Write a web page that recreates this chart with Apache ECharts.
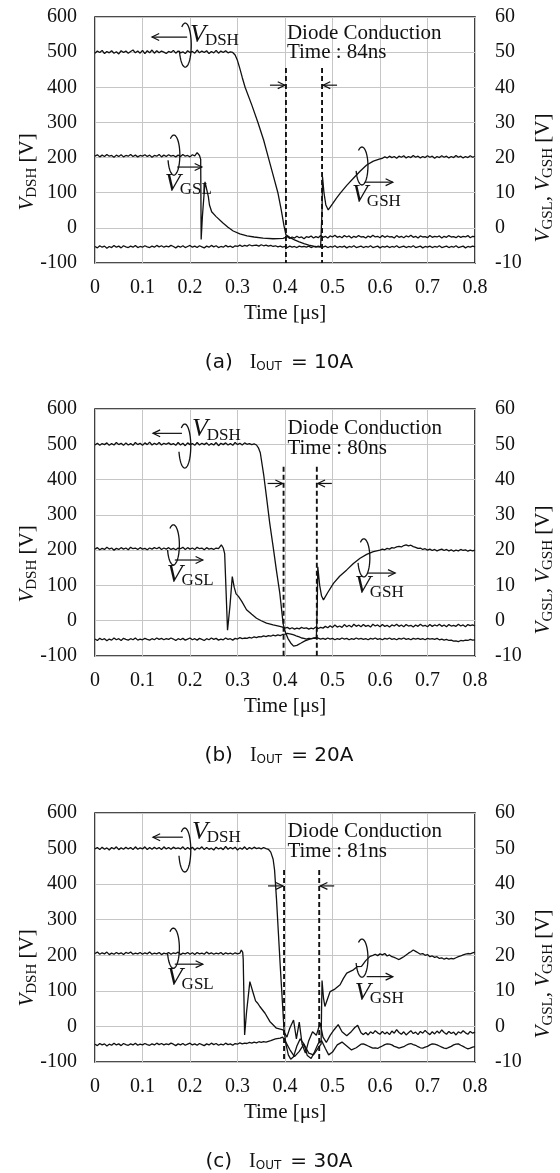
<!DOCTYPE html>
<html>
<head>
<meta charset="utf-8">
<script src="https://cdn.jsdelivr.net/npm/echarts@6/dist/echarts.min.js"></script>
<style>
html,body{margin:0;padding:0;background:#fff;}
#chart{width:560px;height:1173px;}
</style>
</head>
<body>
<div id="chart"></div>
<script>
// ---- tick labels ----
const timeTickLabels = ['0','0.1','0.2','0.3','0.4','0.5','0.6','0.7','0.8'];
const vdsTickLabels = ['-100','0','100','200','300','400','500','600'];
const vgsTickLabels = ['-10','0','10','20','30','40','50','60'];

// ---- panel texts ----
const panelTags = ['(a)','(b)','(c)'];
const outCurrents = ['10A','20A','30A'];
const conductionTimes = ['84ns','80ns','81ns'];
// diode conduction window edges [µs] and top of the dashed markers [V]
const diodeStart = [0.402, 0.397, 0.398];
const diodeEnd = [0.478, 0.467, 0.472];
const diodeMarkTop = [455, 436, 440];

// Waveforms. Steady parts are scope records at a fixed sample interval
// (first sample time given with each record); switching edges are [time µs, V] pairs.
const STEP = 0.005;

// ---- (a) IOUT = 10A ----
const vdshA_pre = [497,503,499,505,496,502,498,504,497,501, 495,504,499,503,497,502,506,498,503,497, 505,496,504,498,506,497,504,498,503,500, 496,502,499,505,497,503,498,501,496,504, 499,502,497,506,498,503,499,504,496,502, 498,505,497,503,499,504,498,501];
const vdshA_edge = [[0.29,499],[0.295,492],[0.3,476],[0.305,453],[0.31,428],[0.316,400],[0.33,350],[0.343,300],[0.355,250],[0.365,200],[0.375,150],[0.385,100],[0.392,52],[0.398,5],[0.402,-20],[0.41,-27],[0.42,-34],[0.43,-40],[0.44,-45],[0.45,-49],[0.46,-52],[0.47,-54]];
const vdshA_post = [-55,-52,-56,-53,-55,-51,-56,-53,-55,-52, -57,-53,-55,-51,-56,-54,-52,-56,-53,-55, -51,-56,-54,-52,-57,-53,-55,-52,-56,-53, -55,-51,-56,-54,-52,-56,-53,-55,-51,-56, -54,-52,-57,-53,-55,-52,-56,-53,-55,-51, -56,-54,-52,-56,-53,-55,-51,-56,-54,-52, -57,-53,-55,-52,-54];
const vgslA_pre = [20.4,20.8,20.2,20.7,20.3,20.9,20.4,20.6,20.1,20.7, 20.3,20.8,20.2,20.6,20.4,20.9,20.3,20.7,20.2,20.6, 20.4,20.8,20.3,20.7,20.1,20.6,20.4,20.9,20.2,20.7, 20.3,20.8,20.4,20.6,20.2,20.7,20.3,20.9,20.4,20.6, 20.2,20.8,20.5];
const vgslA_edge = [[0.215,21.4],[0.22,20.6],[0.2225,19.5],[0.2235,-3.3],[0.226,3],[0.2316,13.1],[0.2386,8.9],[0.241,6.5],[0.2435,6.3],[0.2456,4.6],[0.255,3.2],[0.27,1.3],[0.28,0.2],[0.291,-0.9],[0.305,-1.7],[0.32,-2.3],[0.335,-2.6],[0.354,-2.9],[0.375,-3.1],[0.396,-3.0]];
const vgslA_post = [-2.8,-2.5,-3.0,-2.6,-2.9,-2.4,-2.8,-2.6,-3.1,-2.5, -2.7,-2.3,-2.9,-2.5,-2.8,-2.2,-2.7,-2.4,-2.9,-2.3, -2.6,-2.1,-2.7,-2.4,-2.8,-2.2,-2.6,-2.3,-2.9,-2.4, -2.7,-2.2,-2.6,-2.5,-2.9,-2.3,-2.7,-2.1,-2.6,-2.4, -2.8,-2.2,-2.7,-2.3,-2.6,-2.5,-2.9,-2.2,-2.7,-2.4, -2.8,-2.3,-2.6,-2.1,-2.7,-2.4,-2.9,-2.3,-2.6,-2.5, -2.8,-2.2,-2.7,-2.4,-2.6,-2.3,-2.9,-2.4,-2.7,-2.2, -2.6,-2.5,-2.8,-2.3,-2.7,-2.4,-2.6,-2.2,-2.8,-2.4, -2.5];
const vgshA_pre = [-5.3,-5.7,-5.1,-5.5,-5.2,-5.8,-5.3,-5.6,-5.0,-5.5, -5.2,-5.7,-5.1,-5.4,-5.6,-5.2,-5.5,-5.0,-5.6,-5.3, -5.5,-5.1,-5.4,-5.6,-5.2,-5.5,-5.0,-5.4,-5.1,-5.5, -5.2,-5.4,-5.0,-5.3,-5.7,-5.2,-5.5,-5.1,-5.6,-5.3, -5.0,-5.5,-5.2,-5.6,-5.1,-5.4,-5.7,-5.2,-5.5,-5.0, -5.4,-5.1,-5.6,-5.3,-5.5,-5.0,-5.4,-5.2,-5.6,-5.1, -5.3,-4.9,-5.3,-5.0,-5.2,-4.8,-5.1,-5.0,-4.9,-5.2, -4.8,-5.1,-4.9,-5.2,-5.0,-5.3,-5.1,-5.4,-5.2,-5.5, -5.3,-5.6,-5.2,-5.5,-5.3,-5.6,-5.2,-5.4,-5.3,-5.5, -5.2,-5.6,-5.3,-5.5,-5.2,-5.4];
const vgshA_edge = [[0.478,5],[0.479,14.5],[0.482,10],[0.486,6.5],[0.491,5.1],[0.5,6.8],[0.508,8.4],[0.516,9.8],[0.53,12.1],[0.544,14.1],[0.558,16.1],[0.572,17.9],[0.586,19.0],[0.6,19.6]];
const vgshA_post = [19.8,20.2,19.9,20.4,20.0,20.3,19.8,20.4,20.1,20.5, 19.9,20.3,20.0,20.6,20.1,20.4,19.9,20.3,20.0,20.5, 20.1,20.4,19.8,20.3,20.0,20.5,20.1,20.4,19.9,20.3, 20.0,20.6,20.1,20.4,19.9,20.3,20.0,20.5,20.1,20.3];

// ---- (b) IOUT = 20A ----
const vdshB_pre = [498,503,497,502,499,504,497,502,498,505, 499,503,497,504,498,502,497,505,499,503, 497,504,499,506,498,503,499,505,498,503, 500,504,499,502,497,505,498,503,496,504, 499,502,497,505,498,503,499,504,497,502, 498,505,496,503,499,504,498,502,497,505, 499,503,498,504,500,502,499,501];
const vdshB_edge = [[0.34,498],[0.344,490],[0.348,476],[0.355,415],[0.361,351],[0.368,275],[0.375,210],[0.382,142],[0.389,79],[0.396,-8],[0.4,-30],[0.406,-50],[0.412,-63],[0.418,-72],[0.425,-70],[0.433,-64],[0.442,-57],[0.452,-52],[0.46,-49],[0.467,-48],[0.475,-52]];
const vdshB_post = [-50,-53,-49,-52,-50,-54,-51,-53,-49,-52, -50,-54,-51,-53,-49,-52,-50,-53,-51,-54, -50,-52,-49,-53,-51,-54,-50,-52,-49,-53, -51,-54,-50,-52,-49,-53,-51,-54,-50,-52, -50,-53,-51,-54,-50,-52,-51,-53,-50,-54, -52,-55,-53,-56,-55,-58,-57,-59,-56,-57, -55,-56,-53,-55,-54];
const vgslB_pre = [20.3,20.7,20.1,20.5,20.2,20.8,20.3,20.6,20.0,20.5, 20.2,20.7,20.3,20.6,20.1,20.8,20.4,20.6,20.2,20.7, 20.3,20.5,20.1,20.6,20.3,20.7,20.4,20.8,20.2,20.6, 20.3,20.7,20.2,20.5,20.1,20.6,20.4,20.8,20.2,20.7, 20.3,20.6,20.2,20.8,20.4,20.6,20.1,20.7,20.3,20.5, 20.2,20.6,20.4];
const vgslB_edge = [[0.266,21.5],[0.27,20.6],[0.273,19],[0.279,-2.7],[0.284,4],[0.289,12.5],[0.293,9.5],[0.297,7.6],[0.302,6.9],[0.305,6.7],[0.309,5.5],[0.319,3.1],[0.33,1.8],[0.34,0.7],[0.35,0],[0.361,-0.7],[0.375,-1.2],[0.389,-1.6]];
const vgslB_post = [-1.8,-2.1,-1.9,-2.3,-2.0,-2.4,-2.1,-2.3,-1.9,-2.2, -2.0,-2.4,-2.1,-2.3,-1.8,-2.2,-1.9,-2.1,-1.6,-2.0, -1.4,-1.9,-1.2,-1.8,-1.5,-1.9,-1.1,-1.7,-1.3,-1.8, -1.0,-1.6,-1.2,-1.7,-1.1,-1.6,-1.3,-1.8,-1.0,-1.5, -1.2,-1.7,-1.1,-1.6,-1.3,-1.8,-1.2,-1.5,-1.0,-1.6, -1.2,-1.7,-1.1,-1.5,-1.3,-1.8,-1.2,-1.6,-1.0,-1.5, -1.3,-1.7,-1.1,-1.6,-1.2,-1.5,-1.0,-1.6,-1.2,-1.7, -1.1,-1.5,-1.3,-1.6,-1.0,-1.5,-1.2,-1.7,-1.1,-1.4, -1.2,-1.5];
const vgshB_pre = [-5.2,-5.6,-5.0,-5.4,-5.1,-5.7,-5.2,-5.5,-4.9,-5.4, -5.1,-5.6,-5.0,-5.3,-5.5,-5.1,-5.4,-4.9,-5.5,-5.2, -5.4,-5.0,-5.3,-5.5,-5.1,-5.4,-4.9,-5.3,-5.0,-5.4, -5.1,-5.3,-4.9,-5.2,-5.6,-5.1,-5.4,-5.0,-5.5,-5.2, -4.9,-5.4,-5.1,-5.5,-5.0,-5.3,-5.6,-5.1,-5.4,-4.9, -5.3,-5.0,-5.5,-5.2,-5.4,-4.9,-5.3,-5.1,-5.5,-5.0, -5.2,-4.8,-5.1,-4.9,-5.0,-4.7,-4.9,-4.6,-4.8,-4.5, -4.6,-4.3,-4.5,-4.2,-4.4,-4.1,-4.3,-4.0,-4.2,-3.9, -3.8,-3.6,-3.7,-3.9,-4.1,-4.4,-4.6,-4.9,-5.0,-5.2, -5.0,-5.1,-5.0];
const vgshB_edge = [[0.466,-5.0],[0.468,5],[0.469,15.3],[0.473,10],[0.477,7],[0.481,5.9],[0.49,8.0],[0.502,10.6],[0.515,12.6],[0.53,14.4],[0.544,16.2],[0.558,17.7],[0.572,18.8],[0.586,19.6],[0.6,20.0]];
const vgshB_post = [20.3,20.1,20.5,20.3,20.7,20.6,20.9,21.1,20.9,21.3, 21.5,21.2,21.4,21.0,20.8,20.5,20.6,20.2,20.4,20.0, 20.3,19.9,20.2,19.8,20.1,20.3,19.9,20.2,19.8,20.1, 19.7,20.0,19.8,20.2,19.9,20.1,19.7,20.0,19.8,20.0];

// ---- (c) IOUT = 30A ----
const vdshC_pre = [499,503,497,504,498,502,496,503,499,505, 497,502,498,504,499,503,497,505,498,502, 499,505,497,503,498,504,499,503,497,505, 499,503,498,504,500,502,499,505,497,503, 498,504,496,502,499,505,497,503,498,501, 496,504,499,502,497,506,498,503,499,504, 496,502,498,505,497,503,499,504,500,502, 499,503,500];
const vdshC_edge = [[0.365,498],[0.37,490],[0.375,470],[0.378,440],[0.382,360],[0.386,265],[0.39,170],[0.394,80],[0.398,-10],[0.402,-50],[0.407,-80],[0.412,-92],[0.418,-85],[0.425,-55],[0.432,-35],[0.44,-50],[0.447,-82],[0.455,-90],[0.462,-72],[0.47,-48],[0.477,-40],[0.485,-62],[0.492,-80],[0.5,-72],[0.51,-52],[0.52,-44],[0.53,-55],[0.54,-66],[0.55,-60],[0.56,-50]];
const vdshC_post = [-49,-52,-55,-58,-61,-60,-62,-58,-55,-51, -49,-50,-52,-56,-58,-61,-59,-57,-53,-50, -48,-51,-53,-57,-60,-61,-58,-56,-52,-49, -50,-52,-55,-58,-61,-62,-59,-56,-52,-50, -49,-53,-56,-60,-63,-61,-58,-57];
const vgslC_pre = [20.5,20.9,20.3,20.7,20.4,20.9,20.2,20.6,20.3,20.8, 20.4,20.7,20.2,20.8,20.5,20.9,20.3,20.6,20.4,20.8, 20.3,20.7,20.4,20.9,20.3,20.6,20.4,20.8,20.2,20.6, 20.4,20.8,20.3,20.7,20.5,20.9,20.2,20.6,20.4,20.8, 20.3,20.7,20.2,20.8,20.4,20.6,20.3,20.9,20.4,20.7, 20.3,20.6,20.4,20.8,20.2,20.7,20.4,20.6,20.3,20.7, 20.4,20.6];
const vgslC_edge = [[0.308,21.5],[0.311,20.8],[0.312,19],[0.315,-2.4],[0.319,4],[0.326,12.6],[0.333,9.4],[0.338,7.2],[0.342,6.6],[0.347,5.6],[0.358,3.7],[0.368,1.4],[0.382,-0.5],[0.396,-1.0],[0.404,-3],[0.41,-0.5],[0.418,1.8],[0.424,-3.5],[0.43,1.2],[0.436,-5],[0.443,-7.5],[0.45,-4],[0.458,-1.5],[0.466,-2.5],[0.474,1.0],[0.48,-3],[0.487,-4.5],[0.495,-2.5],[0.503,-1],[0.512,0.5],[0.52,-1.5],[0.53,-2.6],[0.54,-1.4],[0.547,-0.3],[0.553,0.3],[0.56,-1.8]];
const vgslC_post = [-2.3,-1.7,-2.4,-1.5,-2.0,-1.2,-1.8,-2.2,-1.4,-2.1, -1.6,-2.3,-1.3,-1.9,-0.9,-1.7,-2.2,-1.5,-2.4,-1.8, -1.2,-2.0,-1.6,-2.3,-1.4,-1.9,-1.1,-1.8,-2.3,-1.5, -2.1,-1.3,-1.9,-1.0,-1.7,-2.2,-1.4,-2.0,-1.6,-2.4, -1.5,-1.9,-1.2,-1.8,-2.2,-1.4,-1.9,-1.6];
const vgshC_pre = [-5.0,-5.4,-4.8,-5.2,-4.9,-5.5,-5.0,-5.3,-4.7,-5.2, -4.9,-5.4,-4.8,-5.1,-5.3,-4.9,-5.2,-4.7,-5.3,-5.0, -5.2,-4.8,-5.1,-5.3,-4.9,-5.2,-4.7,-5.1,-4.8,-5.2, -4.9,-5.1,-4.7,-5.0,-5.4,-4.9,-5.2,-4.8,-5.3,-5.0, -4.7,-5.2,-4.9,-5.3,-4.8,-5.1,-5.4,-4.9,-5.2,-4.7, -5.1,-4.8,-5.3,-5.0,-5.2,-4.7,-5.1,-4.9,-5.3,-4.8, -5.0,-4.6,-4.9,-4.7,-4.8,-4.5,-4.7,-4.4,-4.6,-4.3, -4.5,-4.3];
const vgshC_edge = [[0.36,-4.4],[0.37,-4.0],[0.38,-3.5],[0.39,-3.3],[0.395,-3.0],[0.4,-4],[0.41,-6.5],[0.42,-8.5],[0.43,-7],[0.44,-5],[0.45,-7.5],[0.46,-8],[0.47,-6],[0.476,-5],[0.477,5],[0.478,12.9],[0.481,8],[0.484,5.6],[0.495,9.8],[0.505,10.5],[0.516,11.7],[0.523,13.5],[0.53,15],[0.544,15.9],[0.552,16.8],[0.561,16.9],[0.57,18.5],[0.579,19.7]];
const vgshC_post = [20.0,20.3,19.9,20.4,20.1,20.5,19.8,20.1,19.6,19.4, 19.1,18.8,19.2,19.6,20.1,20.6,21.0,21.5,21.1,20.7, 20.3,20.5,20.0,20.2,19.6,19.8,19.4,19.6,19.1,19.3, 18.9,19.2,18.9,19.1,19.0,19.3,19.6,19.8,20.1,20.3, 20.5,20.4,20.7,20.9];

// record start times of the post-edge records
const postStart = {
  dsh: [0.48, 0.48, 0.565],
  gsl: [0.40, 0.395, 0.565],
  gsh: [0.605, 0.605, 0.585]
};

function sampled(t0, values) {
  return values.map((v, k) => [Math.round((t0 + k * STEP) * 1e4) / 1e4, v]);
}
function record(pre, edge, post, t1) {
  return sampled(0, pre).concat(edge, sampled(t1, post));
}
const vdshSets = [
  record(vdshA_pre, vdshA_edge, vdshA_post, postStart.dsh[0]),
  record(vdshB_pre, vdshB_edge, vdshB_post, postStart.dsh[1]),
  record(vdshC_pre, vdshC_edge, vdshC_post, postStart.dsh[2])
];
const vgslSets = [
  record(vgslA_pre, vgslA_edge, vgslA_post, postStart.gsl[0]),
  record(vgslB_pre, vgslB_edge, vgslB_post, postStart.gsl[1]),
  record(vgslC_pre, vgslC_edge, vgslC_post, postStart.gsl[2])
];
const vgshSets = [
  record(vgshA_pre, vgshA_edge, vgshA_post, postStart.gsh[0]),
  record(vgshB_pre, vgshB_edge, vgshB_post, postStart.gsh[1]),
  record(vgshC_pre, vgshC_edge, vgshC_post, postStart.gsh[2])
];

// ---- layout ----
const panels = [
  {top: 17, height: 246},
  {top: 409, height: 247},
  {top: 813, height: 249}
];
const PLOT_LEFT = 95, PLOT_WIDTH = 380;
const INK = '#111';
const SERIF = '"Liberation Serif", "Times New Roman", serif';
const SANS = '"DejaVu Sans", Verdana, sans-serif';

// label anchors in (time, V_DSH-axis) units per panel
const labelAnchors = [
  {dshArrow:[0.12,0.194,543], dshCurl:[0.19,520], dshText:[0.2,549],
   gslCurl:[0.166,207], gslArrow:[0.173,0.225,173], gslText:[0.147,125],
   gshCurl:[0.562,176], gshArrow:[0.568,0.627,130], gshText:[0.541,93],
   diodeText:[0.404,554,498], diodeArrow:406},
  {dshArrow:[0.122,0.183,531], dshCurl:[0.189,495], dshText:[0.204,543],
   gslCurl:[0.165,215], gslArrow:[0.168,0.227,172], gslText:[0.151,130],
   gshCurl:[0.566,178], gshArrow:[0.573,0.632,135], gshText:[0.547,98],
   diodeText:[0.405,545,489], diodeArrow:389},
  {dshArrow:[0.122,0.185,532], dshCurl:[0.189,496], dshText:[0.204,547],
   gslCurl:[0.165,220], gslArrow:[0.168,0.227,175], gslText:[0.151,135],
   gshCurl:[0.562,192], gshArrow:[0.572,0.627,140], gshText:[0.547,94],
   diodeText:[0.405,547,491], diodeArrow:395}
];

const chart = echarts.init(document.getElementById('chart'), null, {renderer: 'canvas'});

const grids = [], xAxes = [], yAxes = [], series = [];
panels.forEach((p, i) => {
  grids.push({left: PLOT_LEFT, top: p.top, width: PLOT_WIDTH, height: p.height,
    show: true, borderColor: INK, borderWidth: 1.6, backgroundColor: 'transparent'});
  xAxes.push({
    type: 'value', gridIndex: i, min: 0, max: 0.8, interval: 0.1,
    axisLine: {show: false}, axisTick: {show: false},
    splitLine: {show: true, lineStyle: {color: '#c6c6c6', width: 1}},
    axisLabel: {margin: 15, fontFamily: SERIF, fontSize: 20, color: INK,
      formatter: v => timeTickLabels[Math.round(v * 10)]},
    name: 'Time [μs]', nameLocation: 'middle', nameGap: 40,
    nameTextStyle: {fontFamily: SERIF, fontSize: 21, color: INK}
  });
  yAxes.push({
    type: 'value', gridIndex: i, position: 'left', min: -100, max: 600, interval: 100,
    axisLine: {show: false}, axisTick: {show: false},
    splitLine: {show: true, lineStyle: {color: '#c6c6c6', width: 1}},
    axisLabel: {margin: 18, fontFamily: SERIF, fontSize: 20, color: INK,
      formatter: v => vdsTickLabels[Math.round(v / 100) + 1]}
  });
  yAxes.push({
    type: 'value', gridIndex: i, position: 'right', min: -10, max: 60, interval: 10,
    axisLine: {show: false}, axisTick: {show: false}, splitLine: {show: false},
    axisLabel: {margin: 20, fontFamily: SERIF, fontSize: 20, color: INK,
      formatter: v => vgsTickLabels[Math.round(v / 10) + 1]}
  });
  const trace = (data, yIdx) => ({
    type: 'line', xAxisIndex: i, yAxisIndex: yIdx, data: data,
    symbol: 'none', showSymbol: false, silent: true, animation: false,
    sampling: null, lineStyle: {color: INK, width: 1.3}, z: 3
  });
  series.push(trace(vdshSets[i], 2 * i));
  series.push(trace(vgslSets[i], 2 * i + 1));
  series.push(trace(vgshSets[i], 2 * i + 1));
  [diodeStart[i], diodeEnd[i]].forEach(t => {
    series.push({
      type: 'line', xAxisIndex: i, yAxisIndex: 2 * i,
      data: [[t, diodeMarkTop[i]], [t, -100]],
      symbol: 'none', showSymbol: false, silent: true, animation: false,
      lineStyle: {color: INK, width: 1.9, type: [5, 3]}, z: 4
    });
  });
});

chart.setOption({
  animation: false,
  backgroundColor: '#fff',
  grid: grids, xAxis: xAxes, yAxis: yAxes, series: series
});

// ---- annotations ----
const measureCtx = document.createElement('canvas').getContext('2d');
function textWidth(str, font) { measureCtx.font = font; return measureCtx.measureText(str).width; }

function txt(str, x, y, font, align) {
  return {type: 'text', x: x, y: y, silent: true, z: 10,
    style: {text: str, font: font, fill: INK, align: align || 'left', verticalAlign: 'middle',
            textAlign: align || 'left', textVerticalAlign: 'middle'}};
}
// a row of text pieces, each {s, font, dy, gap}; laid out centred on the local origin
function textRow(pieces) {
  const widths = pieces.map(p => textWidth(p.s, p.font) + (p.gap || 0));
  const total = widths.reduce((a, b) => a + b, 0);
  let x = -total / 2;
  return pieces.map((p, k) => { const el = txt(p.s, x, p.dy || 0, p.font); x += widths[k]; return el; });
}
function line(points, width) {
  return {type: 'polyline', silent: true, z: 9,
    shape: {points: points},
    style: {stroke: INK, lineWidth: width || 1.2, fill: null}};
}
function arrow(x1, y1, x2, y2) {
  const ang = Math.atan2(y2 - y1, x2 - x1), L = 8, spread = 0.45;
  return [
    line([[x1, y1], [x2, y2]], 1.2),
    line([[x2 - L * Math.cos(ang - spread), y2 - L * Math.sin(ang - spread)], [x2, y2],
          [x2 - L * Math.cos(ang + spread), y2 - L * Math.sin(ang + spread)]], 1.2)
  ];
}
// open loop drawn round a trace to tie a label to it
function curl(cx, cy, rx, ry) {
  const pts = [];
  for (let a = -125; a <= 165; a += 5) {
    const r = a * Math.PI / 180;
    pts.push([cx + rx * Math.cos(r), cy + ry * Math.sin(r)]);
  }
  return line(pts, 1.3);
}

const graphics = [];
const fV = 'italic 26px ' + SERIF, fSub = '17px ' + SERIF, fNote = '21px ' + SERIF;

panels.forEach((p, i) => {
  const px = (t, v) => chart.convertToPixel({xAxisIndex: i, yAxisIndex: 2 * i}, [t, v]);
  const A = labelAnchors[i];

  // Diode conduction note
  let q = px(A.diodeText[0], A.diodeText[1]);
  graphics.push(txt('Diode Conduction', q[0], q[1], fNote));
  q = px(A.diodeText[0], A.diodeText[2]);
  graphics.push(txt('Time : ' + conductionTimes[i], q[0], q[1], fNote));
  // arrows pointing at the two dashed markers
  const a1 = px(diodeStart[i], A.diodeArrow), a2 = px(diodeEnd[i], A.diodeArrow);
  graphics.push(...arrow(a1[0] - 16, a1[1], a1[0] - 1, a1[1]));
  graphics.push(...arrow(a2[0] + 15, a2[1], a2[0] + 1, a2[1]));

  // trace labels: V + subscript, loop round the trace, arrow toward its axis
  const label = (anchor, sub) => {
    const r = px(anchor[0], anchor[1]);
    graphics.push(txt('V', r[0], r[1], fV));
    graphics.push(txt(sub, r[0] + textWidth('V', fV) - 1, r[1] + 6, fSub));
  };
  let c = px(A.dshCurl[0], A.dshCurl[1]);
  graphics.push(curl(c[0], c[1], 6, 22));
  let s = px(A.dshArrow[1], A.dshArrow[2]), e = px(A.dshArrow[0], A.dshArrow[2]);
  graphics.push(...arrow(s[0], s[1], e[0], e[1]));
  label(A.dshText, 'DSH');

  c = px(A.gslCurl[0], A.gslCurl[1]);
  graphics.push(curl(c[0], c[1], 6, 20));
  s = px(A.gslArrow[0], A.gslArrow[2]); e = px(A.gslArrow[1], A.gslArrow[2]);
  graphics.push(...arrow(s[0], s[1], e[0], e[1]));
  label(A.gslText, 'GSL');

  c = px(A.gshCurl[0], A.gshCurl[1]);
  graphics.push(curl(c[0], c[1], 6, 19));
  s = px(A.gshArrow[0], A.gshArrow[2]); e = px(A.gshArrow[1], A.gshArrow[2]);
  graphics.push(...arrow(s[0], s[1], e[0], e[1]));
  label(A.gshText, 'GSH');

  // rotated axis titles
  const fT = 'italic 21px ' + SERIF, fTs = '15px ' + SERIF, fTn = '21px ' + SERIF;
  graphics.push({type: 'group', x: 27, y: p.top + 155, rotation: Math.PI / 2, silent: true,
    children: textRow([{s: 'V', font: fT}, {s: 'DSH', font: fTs, dy: 5}, {s: ' [V]', font: fTn}])});
  graphics.push({type: 'group', x: 543, y: p.top + 161, rotation: Math.PI / 2, silent: true,
    children: textRow([{s: 'V', font: fT}, {s: 'GSL', font: fTs, dy: 5}, {s: ', ', font: fTn},
                       {s: 'V', font: fT}, {s: 'GSH', font: fTs, dy: 5}, {s: ' [V]', font: fTn}])});

  // caption below each panel
  const fC = '20px ' + SANS, fI = '20px ' + SERIF, fO = '12px ' + SANS;
  graphics.push({type: 'group', x: 279, y: p.top + p.height + 100, silent: true,
    children: textRow([{s: panelTags[i], font: fC, gap: 17},
                       {s: 'I', font: fI}, {s: 'OUT', font: fO, dy: 4, gap: 9},
                       {s: '= ' + outCurrents[i], font: fC}])});
});

chart.setOption({graphic: graphics});
</script>
</body>
</html>
